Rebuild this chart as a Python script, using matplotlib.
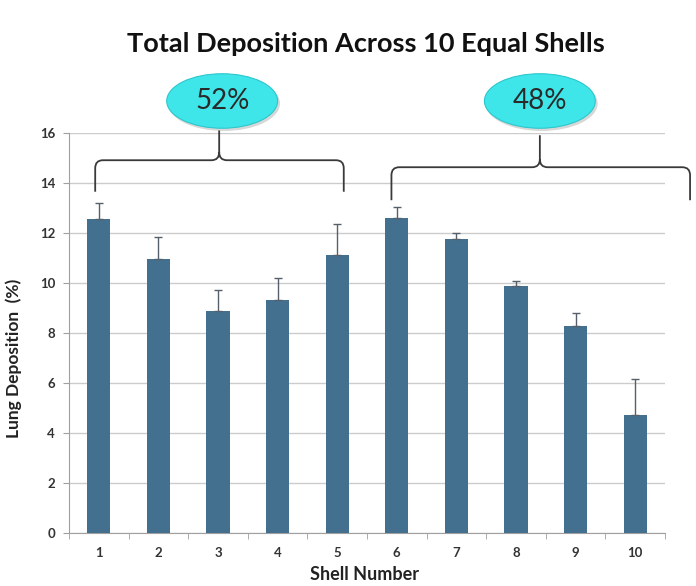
import numpy as np
import matplotlib.pyplot as plt
from matplotlib.patches import Ellipse, PathPatch
from matplotlib.path import Path

plt.rcParams['font.family'] = ['Lato', 'DejaVu Sans']

# data
shells = [1, 2, 3, 4, 5, 6, 7, 8, 9, 10]
deposition = [12.54, 10.94, 8.87, 9.31, 11.10, 12.60, 11.74, 9.88, 8.27, 4.71]
err_top = [13.20, 11.84, 9.70, 10.20, 12.34, 13.04, 12.00, 10.07, 8.78, 6.14]
group_labels = ['52%', '48%']

err_up = [t - v for t, v in zip(err_top, deposition)]

fig = plt.figure(figsize=(6.96, 5.86), dpi=100)
ax = fig.add_axes([0.0991, 0.091, 0.8564, 0.6825])

bar_color = '#44708f'
ax.bar(shells, deposition, width=0.39, color=bar_color, zorder=3)
ax.errorbar(shells, deposition, yerr=[[0] * len(err_up), err_up], fmt='none',
            ecolor='#55606a', elinewidth=1, capsize=3, capthick=1, zorder=4)

ax.set_xlim(0.5, 10.5)
ax.set_ylim(0, 16)
ax.set_yticks(np.arange(0, 17, 2))
ax.set_xticks(shells)
ax.set_xticks(np.arange(0.5, 11, 1), minor=True)
ax.tick_params(axis='x', which='major', length=0, pad=10, labelsize=9.5, labelcolor='#333333')
ax.tick_params(axis='x', which='minor', length=4, color='#a0a0a0', direction='out')
ax.tick_params(axis='y', length=4, color='#a0a0a0', pad=6, labelsize=9.5, labelcolor='#333333')
for lab in ax.get_xticklabels() + ax.get_yticklabels():
    lab.set_fontweight('bold')

ax.grid(axis='y', color='#cccccc', linewidth=1, zorder=0)
ax.set_axisbelow(True)
for s in ['top', 'right']:
    ax.spines[s].set_visible(False)
for s in ['left', 'bottom']:
    ax.spines[s].set_color('#a0a0a0')

ax.set_ylabel('Lung Deposition  (%)', fontsize=12.5, fontweight='bold', color='#222222')
ax.yaxis.set_label_coords(-0.079, 0.435)
ax.set_xlabel('Shell Number', fontsize=13, fontweight='bold', color='#222222')
ax.xaxis.set_label_coords(0.495, -0.084)

fig.text(0.526, 0.925, 'Total Deposition Across 10 Equal Shells', ha='center', va='center',
         fontsize=19.5, fontweight='bold', color='#111111')


# curly braces over the two halves
def brace(x0, x1, xc, y_end, y_bar, y_top):
    rx, ry = 0.13, 0.32
    verts = [(x0, y_end), (x0, y_bar - ry), (x0, y_bar), (x0 + rx, y_bar),
             (xc - rx, y_bar), (xc, y_bar), (xc, y_bar + ry),
             (xc, y_top),
             (xc, y_bar + ry), (xc, y_bar), (xc + rx, y_bar),
             (x1 - rx, y_bar), (x1, y_bar), (x1, y_bar - ry), (x1, y_end)]
    codes = [Path.MOVETO, Path.LINETO, Path.CURVE3, Path.CURVE3,
             Path.LINETO, Path.CURVE3, Path.CURVE3,
             Path.LINETO,
             Path.MOVETO, Path.CURVE3, Path.CURVE3,
             Path.LINETO, Path.CURVE3, Path.CURVE3, Path.LINETO]
    p = PathPatch(Path(verts, codes), facecolor='none', edgecolor='#3a3a3a',
                  linewidth=1.3, clip_on=False, zorder=5)
    ax.add_patch(p)


brace(0.94, 5.11, 3.02, 13.64, 14.90, 16.1)
brace(5.91, 10.92, 8.40, 13.30, 14.62, 15.9)

for xc, lab in zip([3.07, 8.40], group_labels):
    sh = Ellipse((xc + 0.03, 17.17), 1.88, 2.20, facecolor='#b0b0b0', edgecolor='none',
                 alpha=0.5, clip_on=False, zorder=5)
    ax.add_patch(sh)
    el = Ellipse((xc, 17.27), 1.86, 2.18, facecolor='#3ee6ea', edgecolor='#2cc7cc',
                 linewidth=0.8, clip_on=False, zorder=6)
    ax.add_patch(el)
    ax.text(xc, 17.27, lab, ha='center', va='center', fontsize=20, color='#2a2a2a',
            zorder=7, clip_on=False)

fig.savefig('out.png', dpi=100)
